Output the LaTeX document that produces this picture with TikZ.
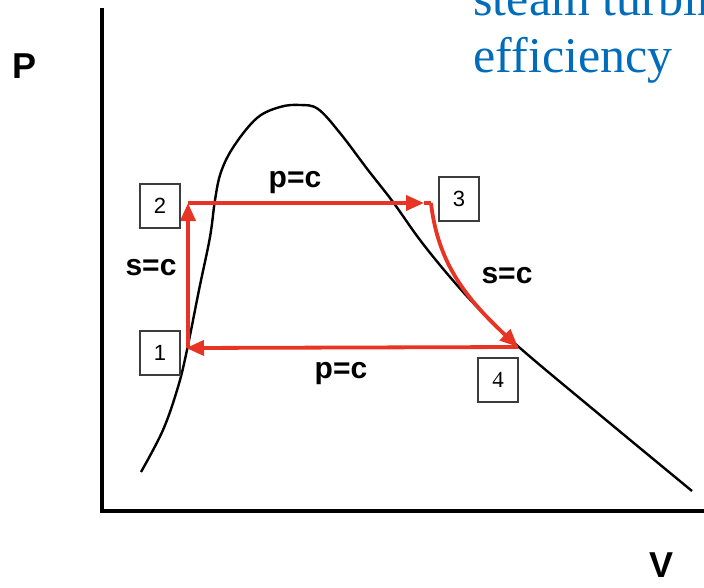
\documentclass[tikz,border=0pt]{standalone}
\usepackage{fontspec}
\setmainfont{Liberation Serif}
\setsansfont{Liberation Sans}
\usetikzlibrary{arrows.meta}
\definecolor{cyc}{RGB}{232,52,36}
\definecolor{ttl}{RGB}{0,108,186}
\definecolor{boxc}{RGB}{60,60,60}
\tikzset{
  axisline/.style={line width=3.2pt,black},
  dome/.style={line width=2.4pt,black},
  cycline/.style={line width=3.8pt,cyc},
  cycarr/.style={cycline,-{Triangle[length=18pt,width=15pt]}},
  numbox/.style={draw=boxc,line width=2pt,minimum width=40pt,minimum height=44pt,inner sep=0pt,fill=white,font=\sffamily\fontsize{22}{22}\selectfont},
  proclabel/.style={anchor=base,font=\sffamily\bfseries\fontsize{30}{30}\selectfont},
  axlabel/.style={inner sep=0pt,font=\sffamily\bfseries\fontsize{36}{36}\selectfont},
  titletext/.style={anchor=base west,text=ttl,font=\rmfamily\fontsize{50}{50}\selectfont}
}
\begin{document}
\begin{tikzpicture}[x=1pt,y=-1pt]
\useasboundingbox (0,0) rectangle (704,587);
\clip (0,0) rectangle (704,587);
% axes
\coordinate (ytop) at (102,8);
\coordinate (orig) at (102,511);
\coordinate (xend) at (706,511);
\draw[axisline] (ytop) -- (orig) -- (xend);
\node[axlabel] (P) at (25,66) {P};
\node[axlabel] (V) at (661,565) {V};
% saturation dome
\draw[dome] plot[smooth,tension=0.6] coordinates {
 (141,472) (163,430) (178,387) (187,350) (199,290) (210,237) (215,200)
 (221,172) (234,146) (257,118) (280,107) (300,105) (318,109) (340,133)
 (368,170) (393,202) (420,240) (450,277) (480,310) (520,348) (600,415) (692,491)};
% cycle points
\coordinate (c1) at (188,348);
\coordinate (c2) at (188,203);
\coordinate (c3) at (431,203);
\coordinate (c3a) at (424,203);
\coordinate (c4) at (518,347);
\coordinate (c1a) at (186,348);
\draw[cycline] (c3a) -- (c3);
\draw[cycarr] (c1) -- (c2);
\draw[cycarr] (c2) -- (c3a);
\draw[cycarr] (c3) .. controls (438,265) and (468,300) .. (c4);
\draw[cycarr] (c4) -- (c1a);
% number boxes
\node[numbox] (b1) at (160,353) {1};
\node[numbox] (b2) at (160,206) {2};
\node[numbox] (b3) at (459,199) {3};
\node[numbox,font=\rmfamily\fontsize{23}{23}\selectfont] (b4) at (498,380) {4};
% process labels
\node[proclabel] (ltop) at (295,187) {p=c};
\node[proclabel] (lleft) at (151,275) {s=c};
\node[proclabel] (lright) at (507,283) {s=c};
\node[proclabel] (lbot) at (341,378) {p=c};
% title
\node[titletext] (t1) at (470,15) {steam turbine};
\node[titletext] (t2) at (470,72) {efficiency};
\end{tikzpicture}
\end{document}
